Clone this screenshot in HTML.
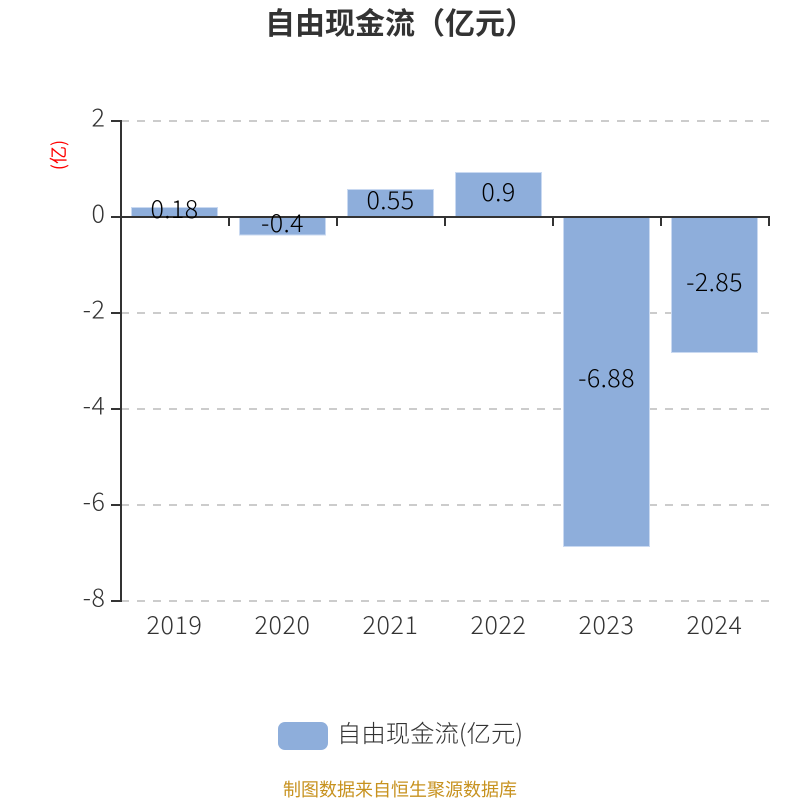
<!DOCTYPE html>
<html><head><meta charset="utf-8"><style>
html,body{margin:0;padding:0;background:#fff}
svg{display:block}
text{font-family:"Noto Sans CJK SC","Liberation Sans",sans-serif}
</style></head><body>
<svg width="800" height="800" viewBox="0 0 800 800" xmlns="http://www.w3.org/2000/svg">
<rect width="800" height="800" fill="#fff"/>
<text x="400" y="34" text-anchor="middle" font-size="30" font-weight="700" fill="#333">自由现金流（亿元）</text>
<g stroke="#ccc" stroke-width="2" stroke-dasharray="8 8" fill="none">
<path d="M121 121H769"/><path d="M121 313H769"/><path d="M121 409H769"/><path d="M121 505H769"/><path d="M121 601H769"/>
</g>
<g fill="#8eaedb" stroke="#c9d9f1" stroke-width="1">
<rect x="131.5" y="207.5" width="86" height="9.5"/>
<rect x="239.5" y="217" width="86" height="18"/>
<rect x="347.5" y="189.5" width="86" height="27.5"/>
<rect x="455.5" y="172.5" width="86" height="44.5"/>
<rect x="563.5" y="217" width="86" height="329.5"/>
<rect x="671.5" y="217" width="86" height="135.5"/>
</g>
<g stroke="#333" stroke-width="2" fill="none">
<path d="M121 120V602"/>
<path d="M111 121H121M111 217H121M111 313H121M111 409H121M111 505H121M111 601H121"/>
<path d="M120 217H770"/>
<path d="M229 217V226M337 217V226M445 217V226M553 217V226M661 217V226M769 217V226"/>
</g>
<g font-size="25" font-weight="300" letter-spacing="0.6" fill="#333" text-anchor="end">
<text x="105.5" y="126.5">2</text><text x="105.5" y="222.5">0</text><text x="105.5" y="318.5">-2</text><text x="105.5" y="414.5">-4</text><text x="105.5" y="510.5">-6</text><text x="105.5" y="606.5">-8</text>
</g>
<g font-size="25" font-weight="300" letter-spacing="0.6" fill="#333" text-anchor="middle">
<text x="174.5" y="634">2019</text><text x="282.5" y="634">2020</text><text x="390.5" y="634">2021</text><text x="498.5" y="634">2022</text><text x="606.5" y="634">2023</text><text x="714.5" y="634">2024</text>
</g>
<g font-size="25" font-weight="300" letter-spacing="0.4" fill="#000" text-anchor="middle">
<text x="174.5" y="218">0.18</text><text x="282.5" y="232">-0.4</text><text x="390.5" y="209">0.55</text><text x="498.5" y="201">0.9</text><text x="606.5" y="387">-6.88</text><text x="714.5" y="291">-2.85</text>
</g>
<text transform="translate(65 155) rotate(-90)" text-anchor="middle" font-size="18" fill="#f00">(亿)</text>
<rect x="278" y="722" width="50" height="28" rx="7" fill="#8eaedb"/>
<text x="337" y="742" font-size="24" font-weight="300" fill="#333" textLength="186" lengthAdjust="spacingAndGlyphs">自由现金流(亿元)</text>
<text x="400" y="796" text-anchor="middle" font-size="18" fill="#c7921f">制图数据来自恒生聚源数据库</text>
</svg>
</body></html>
